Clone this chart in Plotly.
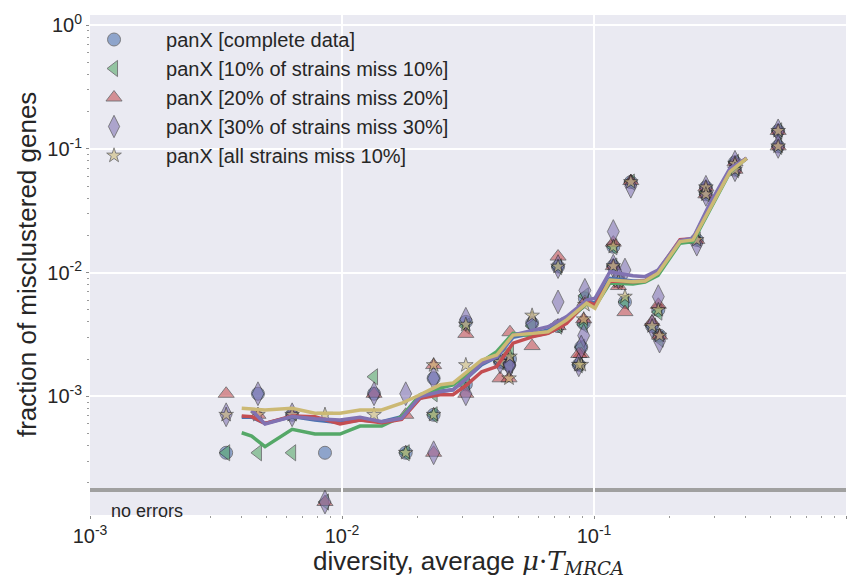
import plotly.graph_objects as go

# ---------------- data ----------------
# diversity (average mu*T_MRCA) of each species set
species_div = [0.00347, 0.00464, 0.00634, 0.00856, 0.0134, 0.0179,
               0.0231, 0.0231, 0.0310, 0.0310, 0.0424, 0.0464, 0.0460,
               0.0568, 0.0720, 0.0720, 0.0920, 0.0910, 0.0890, 0.0870,
               0.1193, 0.1193, 0.1327, 0.1250, 0.1400, 0.1800, 0.1700,
               0.1820, 0.2557, 0.2780, 0.2780, 0.3626, 0.3626, 0.5380, 0.5380]

# fraction of misclustered genes per dataset (0 = no errors)
frac_complete = [3.5e-4, 1.05e-3, 7.1e-4, 3.5e-4, 1.05e-3, 3.5e-4,
                 1.4e-3, 7.1e-4, 4.0e-3, 1.25e-3, 1.9e-3, 2.0e-3, 1.79e-3,
                 3.9e-3, 0.0112, 0.0037, 0.0062, 0.0039, 0.0025, 0.0018,
                 0.0162, 0.0113, 0.0058, 0.0085, 0.054, 0.0050, 0.0037,
                 0.0031, 0.0184, 0.049, 0.043, 0.078, 0.068, 0.140, 0.105]
frac_10of10 = [3.5e-4, 3.5e-4, 3.5e-4, 0, 1.44e-3, 3.5e-4,
               1.05e-3, 7.1e-4, 3.7e-3, 1.25e-3, 1.9e-3, 2.3e-3, 1.79e-3,
               3.7e-3, 0.0112, 0.0037, 0.0065, 0.0038, 0.0025, 0.0018,
               0.0162, 0.0113, 0.0058, 0.0085, 0.054, 0.0048, 0.0037,
               0.0029, 0.0184, 0.045, 0.043, 0.078, 0.068, 0.140, 0.105]
frac_20of20 = [1.05e-3, 7.1e-4, 7.1e-4, 0, 1.05e-3, 7.1e-4,
               1.79e-3, 3.5e-4, 3.2e-3, 1.05e-3, 1.4e-3, 3.3e-3, 1.4e-3,
               2.55e-3, 0.0135, 0.0037, 0.0058, 0.0042, 0.0022, 0.0022,
               0.0175, 0.0113, 0.0048, 0.0078, 0.055, 0.0055, 0.0040,
               0.0031, 0.0184, 0.049, 0.043, 0.078, 0.068, 0.140, 0.105]
frac_30of30 = [7.1e-4, 1.05e-3, 7.1e-4, 0, 1.05e-3, 1.05e-3,
               1.4e-3, 3.5e-4, 4.2e-3, 1.05e-3, 1.9e-3, 1.79e-3, 1.79e-3,
               3.9e-3, 0.0112, 0.0058, 0.0072, 0.0031, 0.0025, 0.0018,
               0.0215, 0.0113, 0.0105, 0.0092, 0.050, 0.0064, 0.0037,
               0.0028, 0.0170, 0.049, 0.043, 0.078, 0.068, 0.140, 0.105]
frac_all10 = [7.1e-4, 7.1e-4, 7.1e-4, 7.1e-4, 7.1e-4, 3.5e-4,
              1.79e-3, 7.1e-4, 3.8e-3, 1.79e-3, 1.9e-3, 2.1e-3, 1.4e-3,
              4.5e-3, 0.0112, 0.0037, 0.0055, 0.0042, 0.0018, 0.0018,
              0.0162, 0.0113, 0.0064, 0.0085, 0.054, 0.0050, 0.0037,
              0.0031, 0.0184, 0.049, 0.043, 0.076, 0.068, 0.140, 0.105]

# running averages (trend lines)
line_div = [0.0040, 0.00438, 0.00495, 0.00634, 0.00781, 0.00982, 0.01179,
            0.01437, 0.01725, 0.0204, 0.0245, 0.02757, 0.03125, 0.03584,
            0.0411, 0.0477, 0.0573, 0.0657, 0.0779, 0.0935, 0.1009, 0.1157,
            0.1428, 0.1594, 0.1795, 0.2194, 0.247, 0.2885, 0.3465, 0.4036]
line_complete = [0.000678, 0.000680, 0.000605, 0.000686, 0.000645, 0.000612,
                 0.000645, 0.000624, 0.000686, 0.000966, 0.00110, 0.00113,
                 0.00140, 0.00180, 0.00208, 0.00300, 0.00323, 0.00344,
                 0.00415, 0.00590, 0.00570, 0.00900, 0.00857, 0.00857,
                 0.0103, 0.0176, 0.01837, 0.0336, 0.0670, 0.0841]
line_10of10 = [0.000508, 0.000478, 0.000392, 0.000542, 0.000496, 0.000496,
               0.000576, 0.000576, 0.000686, 0.00103, 0.00117, 0.00124,
               0.00149, 0.00191, 0.00230, 0.00323, 0.00308, 0.00325,
               0.00400, 0.00560, 0.00531, 0.00826, 0.00811, 0.00840,
               0.00950, 0.01729, 0.01782, 0.0328, 0.0650, 0.0841]
line_20of20 = [0.000695, 0.000686, 0.000605, 0.000695, 0.000686, 0.000598,
               0.000645, 0.000612, 0.000653, 0.000966, 0.00103, 0.00103,
               0.00124, 0.00158, 0.00174, 0.00269, 0.00304, 0.00323,
               0.00390, 0.00583, 0.00548, 0.00857, 0.00846, 0.00857,
               0.0103, 0.0185, 0.0188, 0.0345, 0.0680, 0.0841]
line_30of30 = [None, 0.000776, 0.000598, 0.000686, 0.000660, 0.000645,
               0.000678, 0.000624, 0.000665, 0.000995, 0.00109, 0.00113,
               0.00140, 0.00185, 0.00209, 0.00313, 0.00344, 0.00366,
               0.00441, 0.00601, 0.00621, 0.01018, 0.00946, 0.00928,
               0.01051, 0.01815, 0.01897, 0.0364, 0.0698, 0.0841]
line_all10 = [0.000801, 0.000790, 0.000776, 0.000801, 0.000730, 0.000730,
              0.000776, 0.000776, 0.000880, 0.00103, 0.00124, 0.00128,
              0.00158, 0.00197, 0.00216, 0.00313, 0.00323, 0.00333,
              0.00415, 0.00566, 0.00515, 0.00873, 0.00846, 0.00857,
              0.00989, 0.01782, 0.01837, 0.0332, 0.0655, 0.0841]

labels = ["panX [complete data]",
          "panX [10% of strains miss 10%]",
          "panX [20% of strains miss 20%]",
          "panX [30% of strains miss 30%]",
          "panX [all strains miss 10%]"]

x_tick_vals = [1e-3, 1e-2, 1e-1, 1e0]
x_tick_text = ["10<sup>-3</sup>", "10<sup>-2</sup>", "10<sup>-1</sup>", "10<sup>0</sup>"]
minor_tick_vals = [m * 10.0 ** e for e in range(-4, 1) for m in range(2, 10)]

no_error_level = 1.75e-4   # grey separator line
zero_plot_level = 1.4e-4   # where zero-error sets are drawn

# ---------------- style ----------------
colors = ["#4C72B0", "#55A868", "#C44E52", "#8172B2", "#CCB974"]
symbols = ["circle", "triangle-left", "triangle-up", "diamond-tall", "star"]
sizes = [13, 14, 14, 17, 11]
FONT = "Liberation Sans, Arial, sans-serif"
TXT = "#262626"

fig = go.Figure()

point_sets = [frac_complete, frac_10of10, frac_20of20, frac_30of30, frac_all10]
line_sets = [line_complete, line_10of10, line_20of20, line_30of30, line_all10]

for i, (vals, lab) in enumerate(zip(point_sets, labels)):
    yv = [v if v > 0 else zero_plot_level for v in vals]
    fig.add_trace(go.Scatter(
        x=species_div, y=yv, mode="markers", name=lab,
        legendgroup=f"g{i}",
        marker=dict(symbol=symbols[i], size=sizes[i], color=colors[i],
                    opacity=0.58,
                    line=dict(color="rgba(30,30,30,0.9)", width=1)),
    ))

for i, vals in enumerate(line_sets):
    fig.add_trace(go.Scatter(
        x=line_div, y=vals, mode="lines", showlegend=False,
        legendgroup=f"g{i}",
        line=dict(color=colors[i], width=3.5),
    ))

fig.add_shape(type="line", xref="paper", yref="y", x0=0, x1=1,
              y0=no_error_level, y1=no_error_level,
              line=dict(color="#A0A0A0", width=4), layer="below")

fig.add_annotation(x=-2.925, y=-3.93, xref="x", yref="y", text="no errors",
                   showarrow=False, xanchor="left", yanchor="middle",
                   font=dict(family=FONT, size=18, color=TXT))

# axis titles
fig.add_annotation(
    x=0.5, y=-0.058, xref="paper", yref="paper", xanchor="center", yanchor="top",
    showarrow=False,
    text='diversity, average <span style="font-family:DejaVu Serif"><i>μ</i>·<i>T</i><sub><i>MRCA</i></sub></span>',
    font=dict(family=FONT, size=26, color=TXT))
fig.add_annotation(
    x=-0.0833, y=0.5, xref="paper", yref="paper", xanchor="center", yanchor="middle",
    showarrow=False, textangle=-90, text="fraction of misclustered genes",
    font=dict(family=FONT, size=26, color=TXT))

axis_common = dict(
    type="log", showgrid=True, gridcolor="white", gridwidth=1.5,
    zeroline=False, showline=False, ticks="outside", ticklen=3,
    tickcolor="#8a8a8a", automargin=False,
    tickfont=dict(family=FONT, size=20, color=TXT),
    minor=dict(ticks="outside", ticklen=2, tickcolor="#9a9a9a", showgrid=False,
               tickvals=minor_tick_vals),
)

fig.update_layout(
    width=861, height=579,
    margin=dict(l=90, r=15, t=15, b=64),
    paper_bgcolor="white", plot_bgcolor="#EAEAF2",
    font=dict(family=FONT, color=TXT),
    xaxis=dict(axis_common, range=[-3, 0], tickvals=x_tick_vals, ticktext=x_tick_text),
    yaxis=dict(axis_common, range=[-3.959, 0.083], tickvals=x_tick_vals, ticktext=x_tick_text),
    legend=dict(x=-0.037, y=0.99, xanchor="left", yanchor="top",
                bgcolor="rgba(0,0,0,0)", borderwidth=0,
                font=dict(family=FONT, size=20, color=TXT),
                tracegroupgap=0, itemwidth=94),
    showlegend=True,
)

fig.write_html("out.html")
